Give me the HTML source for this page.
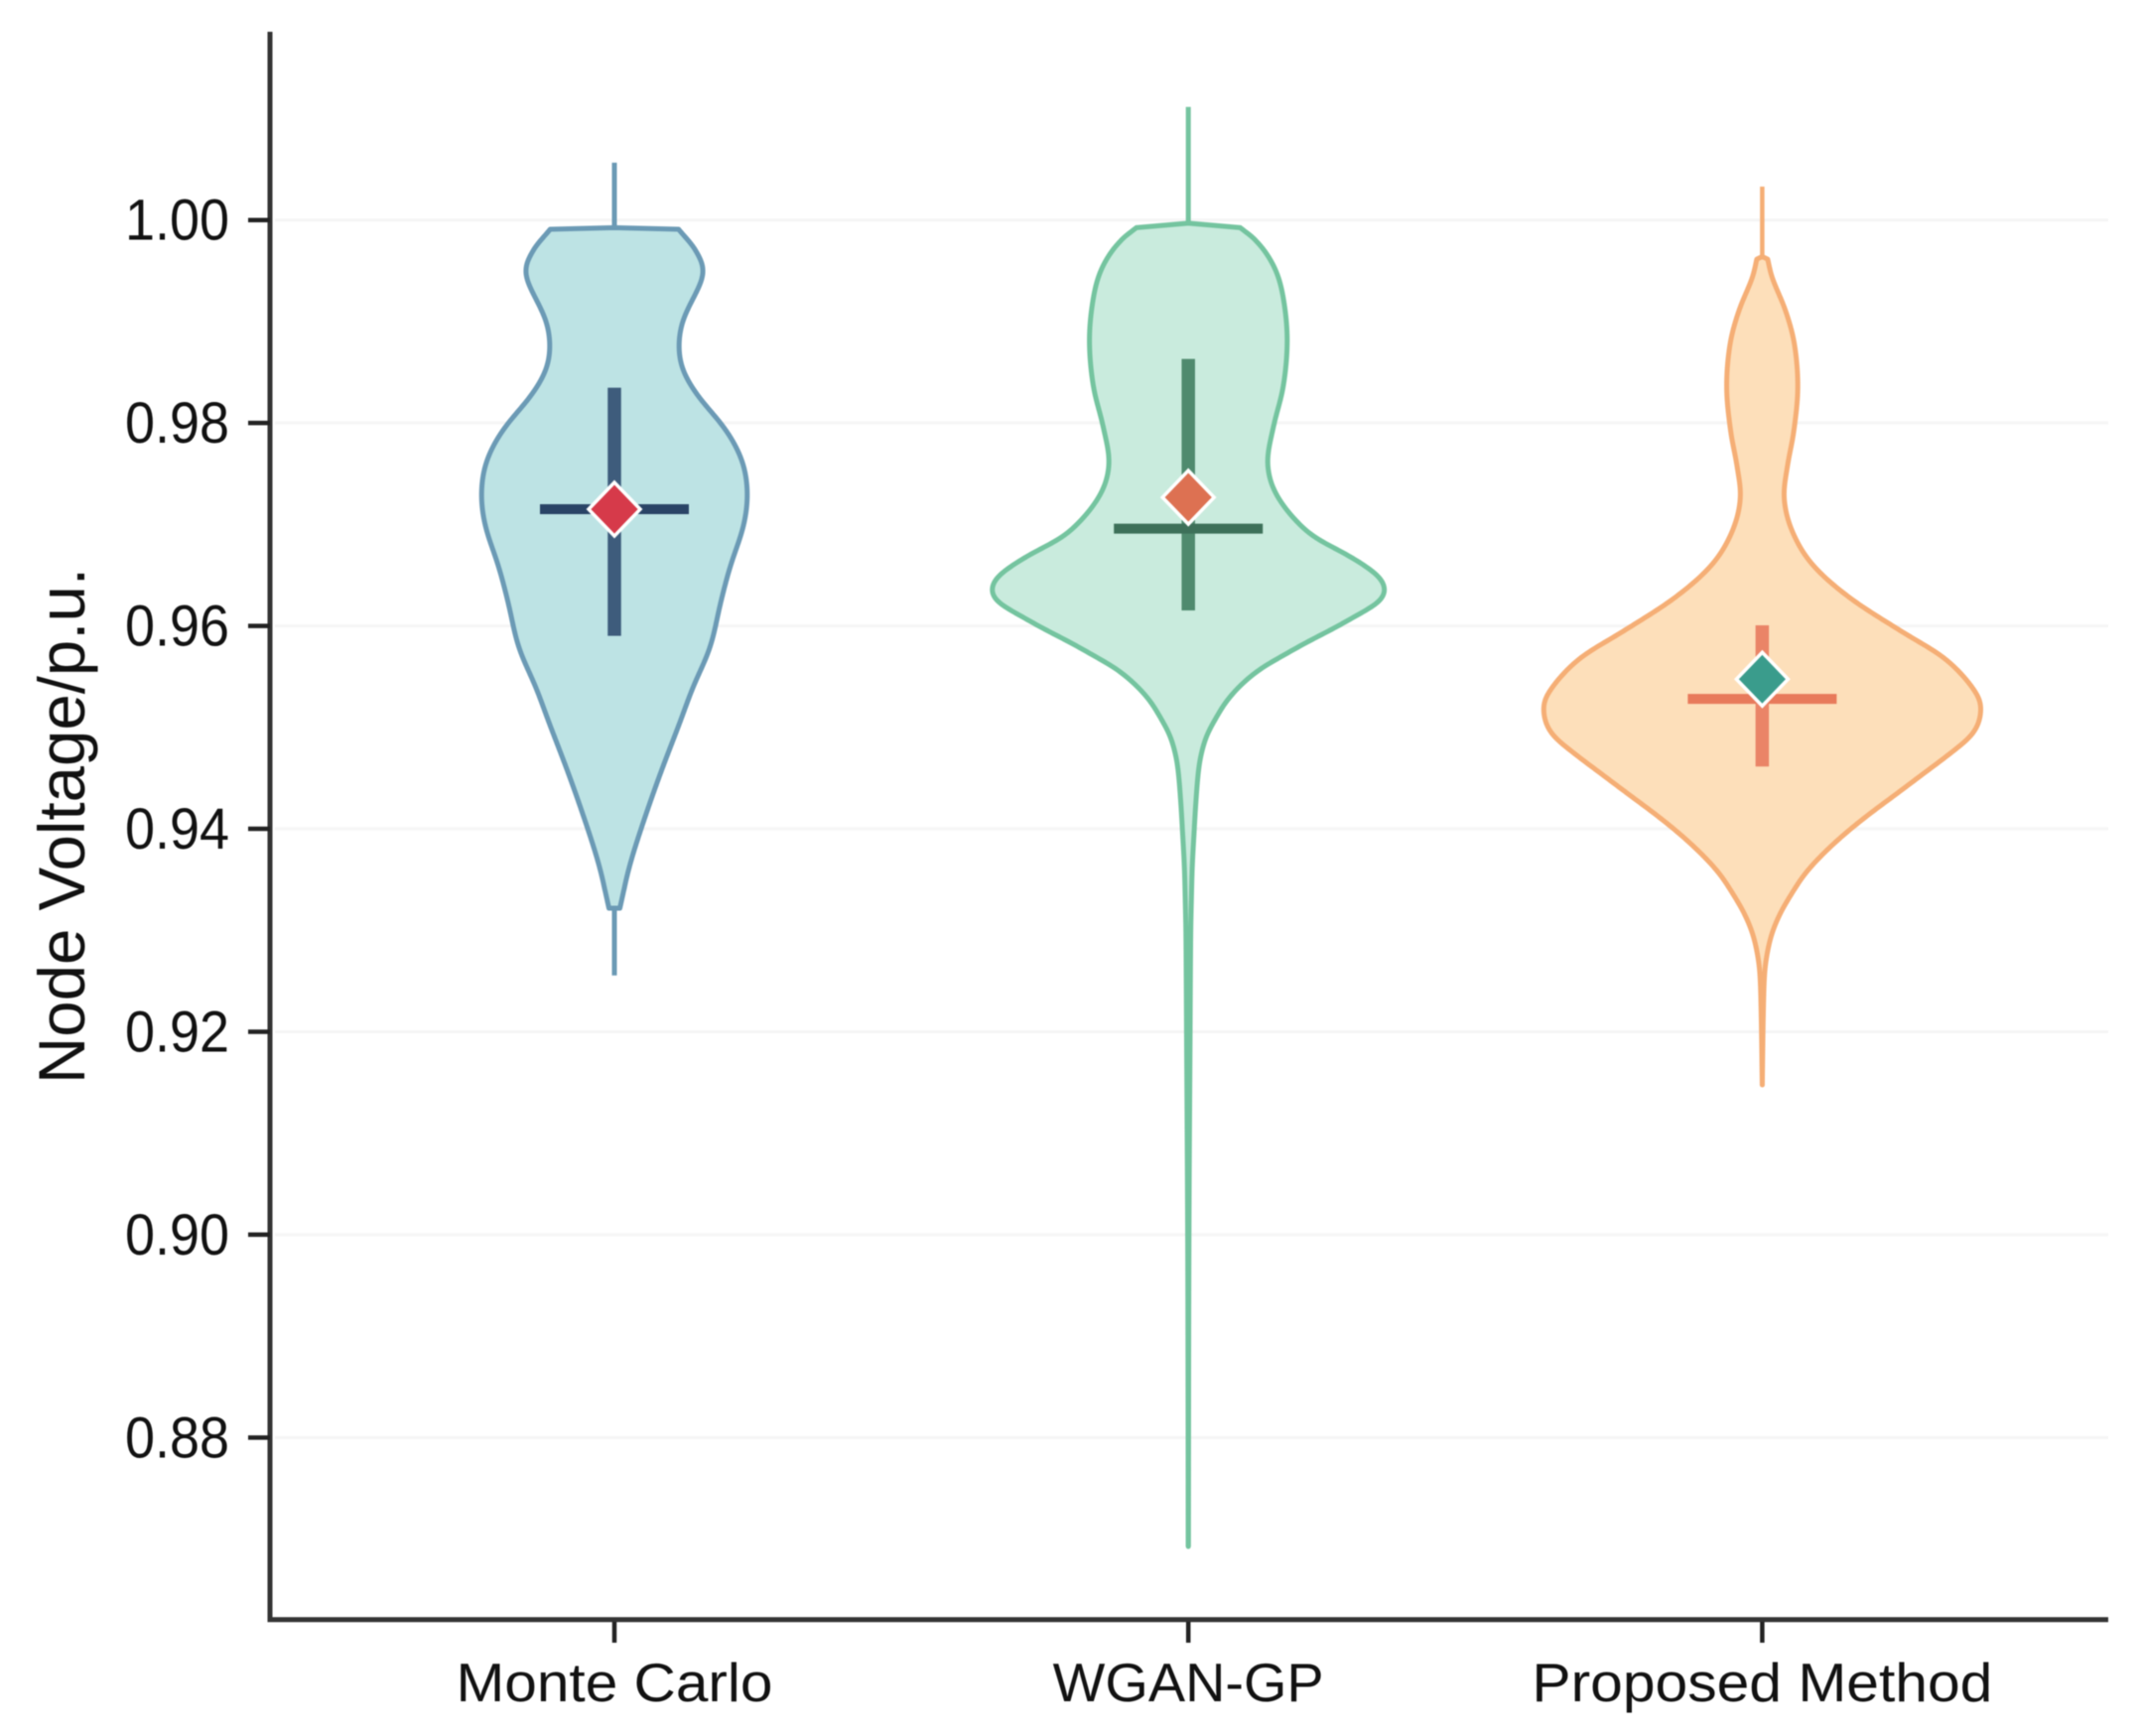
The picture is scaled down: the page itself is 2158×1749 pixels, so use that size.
<!DOCTYPE html>
<html lang="en">
<head>
<meta charset="utf-8">
<title>Node Voltage Violin Chart</title>
<style>
html,body{margin:0;padding:0;background:#ffffff;}
svg{display:block;filter:blur(0.5px);}
text{font-family:"Liberation Sans",sans-serif;fill:#111111;}
</style>
</head>
<body>
<svg id="chart" xmlns="http://www.w3.org/2000/svg" width="2158" height="1749" viewBox="0 0 2158 1749"></svg>
<script>
// ---- chart data ----
const categories = ["Monte Carlo", "WGAN-GP", "Proposed Method"];
const yTicks = [1.00, 0.98, 0.96, 0.94, 0.92, 0.90, 0.88];
const yTickLabels = ["1.00", "0.98", "0.96", "0.94", "0.92", "0.90", "0.88"];
const yTitle = "Node Voltage/p.u.";

const mcVoltage = [0.99909,0.99658,0.99494,0.99303,0.99002,0.98729,0.98511,0.98238,0.97965,0.97637,0.97310,0.96983,0.96600,0.96218,0.95782,0.95399,0.95072,0.94525,0.93980,0.93609,0.93218];
const mcDensity = [29.4,38.8,41.6,37.9,31.0,29.4,31.3,39.1,50.1,58.5,61.0,59.2,53.2,48.5,43.8,36.0,30.4,20.7,11.9,6.6,2.5];

const wganVoltage = [0.99925,0.99767,0.99494,0.99166,0.98784,0.98348,0.97965,0.97583,0.97256,0.96886,0.96723,0.96560,0.96462,0.96348,0.96234,0.96104,0.95973,0.95842,0.95712,0.95582,0.95419,0.95255,0.95093,0.94930,0.94766,0.94604,0.94277,0.93951,0.93626,0.93299,0.92973,0.91972,0.90064,0.88160,0.86926];
const wganDensity = [23.8,32.5,40.3,44.0,45.3,43.4,39.0,36.3,41.3,56.7,71.0,83.2,88.5,90.3,87.7,77.1,66.5,54.4,43.8,33.2,24.1,17.3,12.7,8.6,6.2,4.8,3.5,2.6,1.8,1.4,1.1,0.8,0.3,0.1,0.0];

const propVoltage = [0.99614,0.99439,0.99112,0.98784,0.98348,0.97910,0.97583,0.97256,0.96928,0.96600,0.96273,0.95945,0.95673,0.95321,0.95126,0.94930,0.94735,0.94539,0.94343,0.94148,0.93952,0.93756,0.93561,0.93365,0.93169,0.92973,0.92778,0.92582,0.92191,0.91476];
const propDensity = [2.5,4.4,10.6,14.7,16.3,14.4,11.6,10.0,13.8,23.1,40.3,63.8,84.0,98.5,100.0,96.2,85.6,73.5,61.4,49.2,37.9,28.0,19.7,13.6,8.3,4.5,2.3,1.1,0.5,0.0];

const capTop = [0.99925, 0.99969, 0.99640];
const whiskerHigh = [1.00566, 1.01115, 1.00330];
const whiskerLow = [0.92555, 0.86926, 0.91465];
const q3Values = [0.98348, 0.98631, 0.96006];
const q1Values = [0.95902, 0.96152, 0.94614];
const medianValues = [0.97150, 0.96958, 0.95280];
const meanValues = [0.97150, 0.97267, 0.95475];

// ---- scales ----
function yScale(v){ return 221.7 + (1 - v) * 10222; }
function xScale(i){ return 619 + 578.2 * i; }
function widthScale(d){ return d * 2.2; }

// ---- styling ----
const seriesVoltage = [mcVoltage, wganVoltage, propVoltage];
const seriesDensity = [mcDensity, wganDensity, propDensity];
const smoothing = [0.0010, 0.0006, 0.0005];
const fillColors = ["#bde3e4", "#c9ebdd", "#fddfba"];
const strokeColors = ["#6b9ab5", "#74c49f", "#f5ae75"];
const iqrColors = ["#3e5c7c", "#4f8a6e", "#ea8467"];
const medianColors = ["#2a4466", "#3d7059", "#e87a5b"];
const meanColors = ["#d63a4a", "#dd7152", "#3a9c8c"];
const slugs = ["monte-carlo", "wgan-gp", "proposed-method"];
const whiskerWidths = [5, 5, 4.5];

const svg = document.getElementById("chart");
function make(tag, attrs, text){
  const el = document.createElementNS("http://www.w3.org/2000/svg", tag);
  for (const k in attrs) el.setAttribute(k, attrs[k]);
  if (text !== undefined) el.textContent = text;
  svg.appendChild(el);
  return el;
}

// Hermite interpolation of density over voltage (voltages are descending).
function densityAt(vs, ds, v){
  let j = 0;
  while (j < vs.length - 2 && v < vs[j + 1]) j++;
  const h = vs[j] - vs[j + 1];
  const a = Math.max(j - 1, 0), b = Math.min(j + 2, vs.length - 1);
  const m0 = (ds[a] - ds[j + 1]) / (vs[a] - vs[j + 1]);
  const m1 = (ds[j] - ds[b]) / (vs[j] - vs[b]);
  const t = (vs[j] - v) / h;
  const t2 = t * t, t3 = t2 * t;
  const val = (2 * t3 - 3 * t2 + 1) * ds[j] + (t3 - 2 * t2 + t) * (-h) * m0 + (-2 * t3 + 3 * t2) * ds[j + 1] + (t3 - t2) * (-h) * m1;
  return Math.max(val, 0);
}

// Dense, gently smoothed profile from the arrays above.
function profile(vs, ds, sigma){
  const step = 0.0001;
  const top = vs[0], bottom = vs[vs.length - 1];
  const n = Math.max(2, Math.round((top - bottom) / step));
  const raw = [], grid = [];
  for (let k = 0; k <= n; k++){
    const v = top - (top - bottom) * k / n;
    grid.push(v);
    raw.push(densityAt(vs, ds, v));
  }
  const dv = (top - bottom) / n;
  return grid.map(function(v, k){
    const s = Math.min(sigma, Math.min(top - v, v - bottom) / 2);
    if (s < dv) return [v, raw[k]];
    const w = Math.ceil(3 * s / dv);
    let sum = 0, total = 0;
    for (let q = Math.max(0, k - w); q <= Math.min(n, k + w); q++){
      const g = Math.exp(-0.5 * Math.pow((q - k) * dv / s, 2));
      sum += g * raw[q];
      total += g;
    }
    return [v, sum / total];
  });
}

// ---- grid lines ----
yTicks.forEach(function(t){
  const grid = make("line", {x1: 277, x2: 2124, y1: yScale(t), y2: yScale(t), stroke: "#f5f5f5", "stroke-width": 3});
  
  
});

// ---- violins ----
categories.forEach(function(cat, i){
  const cx = xScale(i);
  const whisker = make("line", {x1: cx, x2: cx, y1: yScale(whiskerHigh[i]), y2: yScale(whiskerLow[i]), stroke: strokeColors[i], "stroke-width": whiskerWidths[i]});
  
  

  const prof = profile(seriesVoltage[i], seriesDensity[i], smoothing[i]);
  const capY = yScale(capTop[i]);
  let d = "M" + cx + " " + capY.toFixed(2);
  prof.forEach(function(p){
    d += " L" + (cx + widthScale(p[1])).toFixed(2) + " " + yScale(p[0]).toFixed(2);
  });
  for (let k = prof.length - 1; k >= 0; k--){
    d += " L" + (cx - widthScale(prof[k][1])).toFixed(2) + " " + yScale(prof[k][0]).toFixed(2);
  }
  d += " Z";
  const body = make("path", {d: d, fill: fillColors[i], stroke: strokeColors[i], "stroke-width": 5, "stroke-linejoin": "round"});
  
  

  const iqr = make("line", {x1: cx, x2: cx, y1: yScale(q3Values[i]), y2: yScale(q1Values[i]), stroke: iqrColors[i], "stroke-width": 13.5});
  
  

  const median = make("line", {x1: cx - 75, x2: cx + 75, y1: yScale(medianValues[i]), y2: yScale(medianValues[i]), stroke: medianColors[i], "stroke-width": 10});
  
  

  const my = yScale(meanValues[i]);
  const pts = [[cx, my - 27], [cx + 26, my], [cx, my + 27], [cx - 26, my]].map(function(p){ return p[0] + "," + p[1]; }).join(" ");
  const mean = make("polygon", {points: pts, fill: meanColors[i], stroke: "#ffffff", "stroke-width": 3.5, "stroke-linejoin": "miter"});
  
  
});

// ---- axes ----
const yAxis = make("line", {x1: 272, x2: 272, y1: 32, y2: 1634, stroke: "#333333", "stroke-width": 5});



const xAxis = make("line", {x1: 269.5, x2: 2124, y1: 1631.7, y2: 1631.7, stroke: "#333333", "stroke-width": 5});



yTicks.forEach(function(t, i){
  const y = yScale(t);
  const tick = make("line", {x1: 250, x2: 272, y1: y, y2: y, stroke: "#222222", "stroke-width": 4.5});
  
  
  const label = make("text", {x: 231, y: y + 20, "text-anchor": "end", "font-size": 58, textLength: 105, lengthAdjust: "spacingAndGlyphs"}, yTickLabels[i]);
  
  
});

const labelWidths = [319, 273, 464];
categories.forEach(function(cat, i){
  const cx = xScale(i);
  const tick = make("line", {x1: cx, x2: cx, y1: 1634, y2: 1655, stroke: "#222222", "stroke-width": 4.5});
  
  
  const label = make("text", {x: cx, y: 1714, "text-anchor": "middle", "font-size": 55, textLength: labelWidths[i], lengthAdjust: "spacingAndGlyphs"}, cat);
  
  
});

const title = make("text", {x: 0, y: 0, "text-anchor": "middle", "font-size": 66, textLength: 520, lengthAdjust: "spacingAndGlyphs", transform: "translate(85 832) rotate(-90)"}, yTitle);


</script>
</body>
</html>
